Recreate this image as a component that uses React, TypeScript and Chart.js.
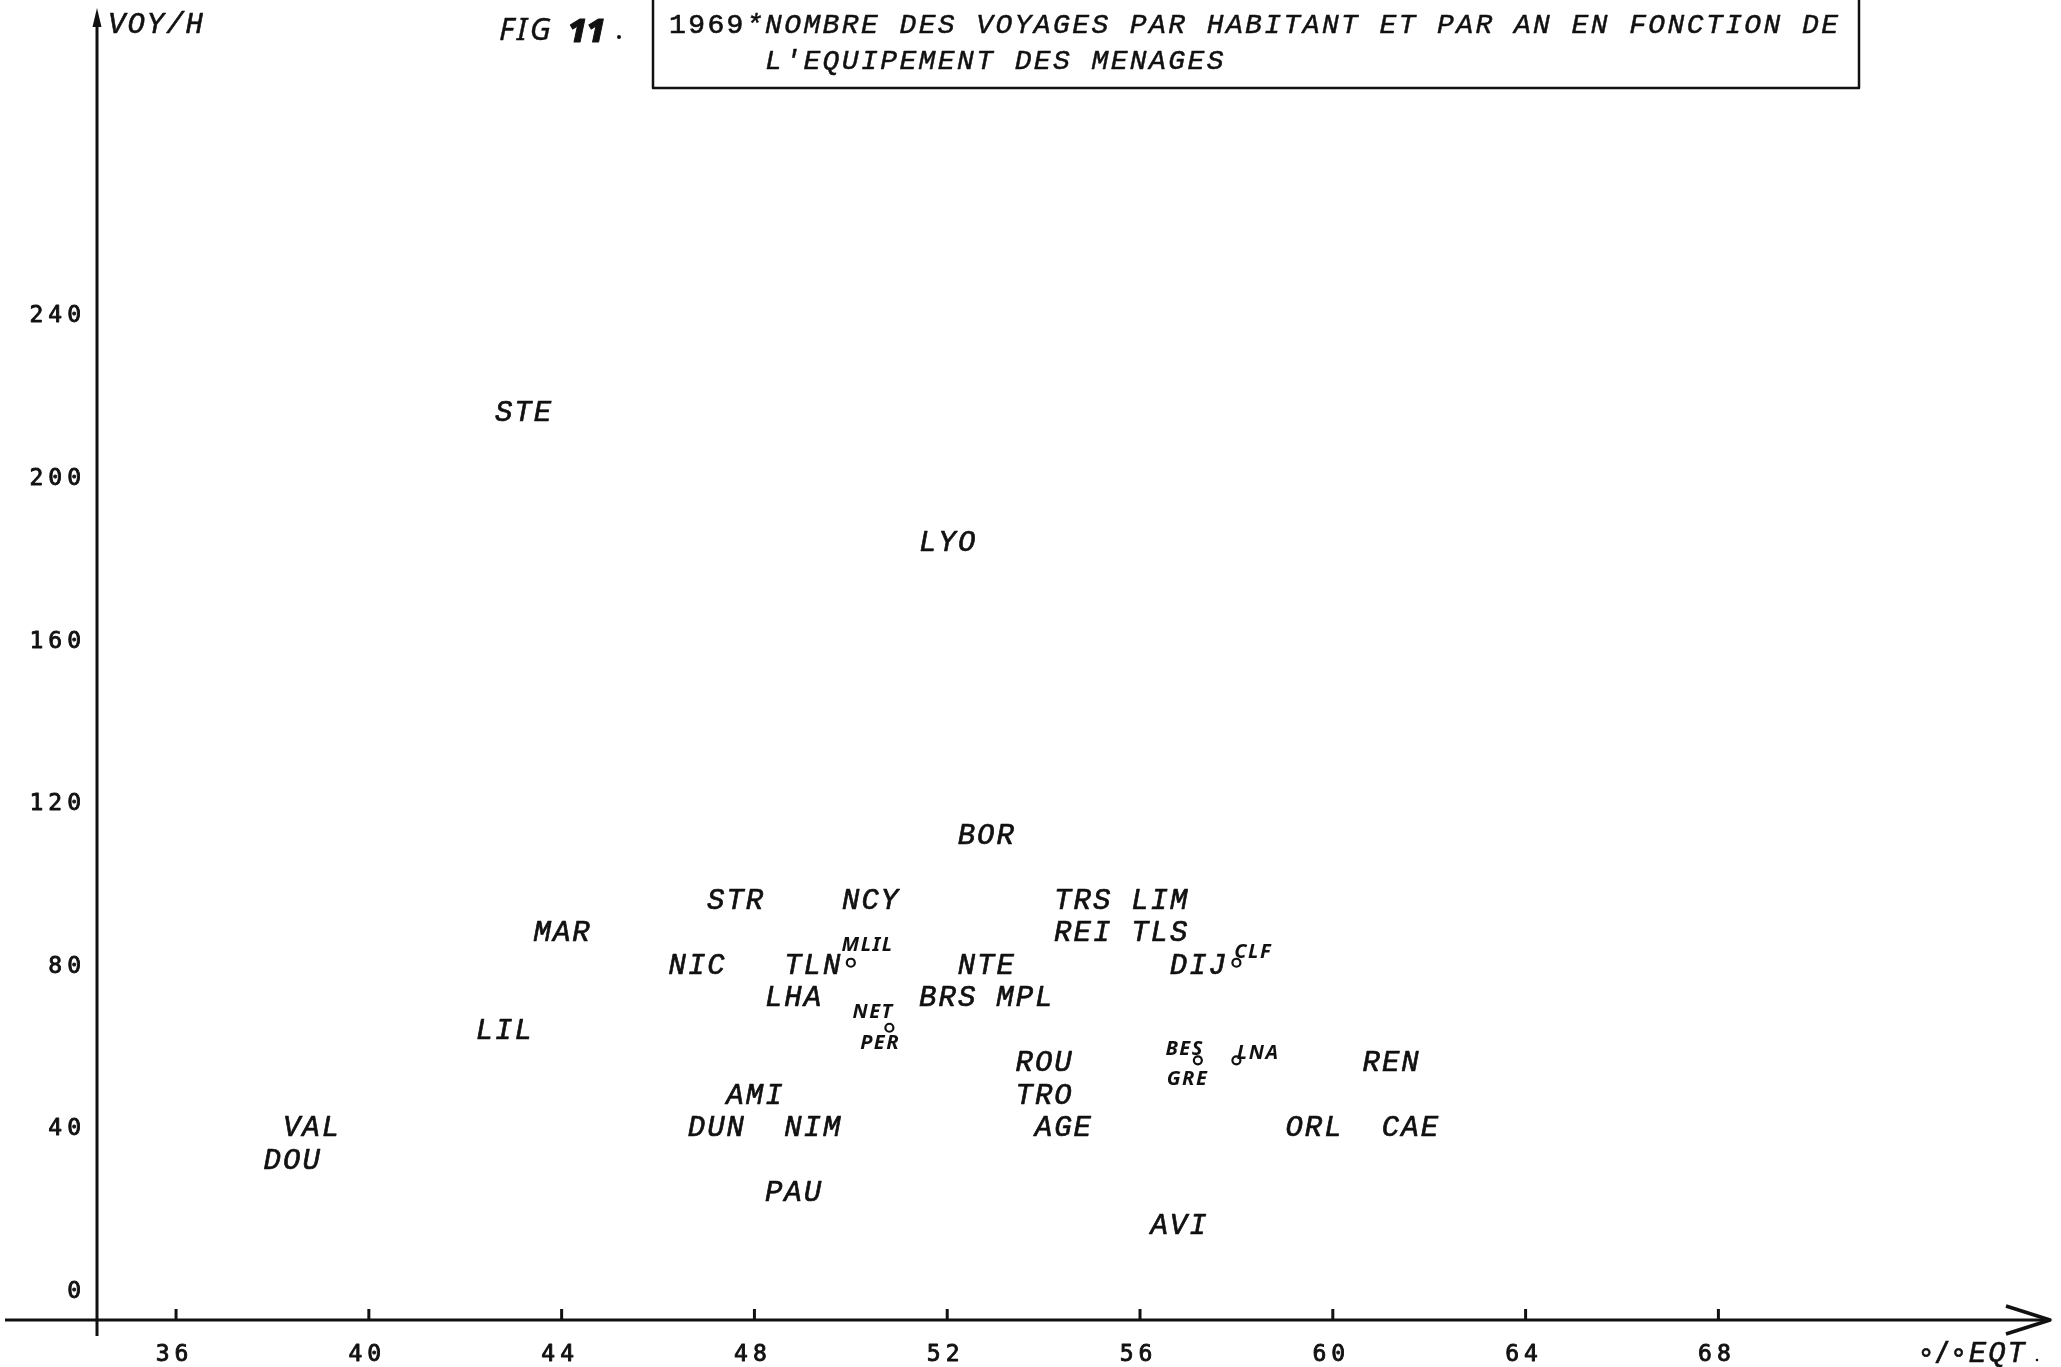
import React, { useEffect, useRef } from 'react';
import { Chart, registerables } from 'chart.js';

Chart.register(...registerables);

// ---------------- data ----------------
const X_TICKS = [36, 40, 44, 48, 52, 56, 60, 64, 68];
const Y_TICKS = [0, 40, 80, 120, 160, 200, 240];

const CITY_NAMES = ['STE', 'LYO', 'BOR', 'STR', 'NCY', 'TRS', 'LIM', 'MAR', 'REI', 'TLS', 'NIC', 'TLN', 'NTE', 'DIJ', 'LHA', 'BRS', 'MPL', 'LIL', 'ROU', 'REN', 'AMI', 'TRO', 'VAL', 'DUN', 'NIM', 'AGE', 'ORL', 'CAE', 'DOU', 'PAU', 'AVI'];
const CITY_EQT = [43.2, 52.0, 52.8, 47.6, 50.4, 54.8, 56.4, 44.0, 54.8, 56.4, 46.8, 49.2, 52.8, 57.2, 48.8, 52.0, 53.6, 42.8, 54.0, 61.2, 48.0, 54.0, 38.8, 47.2, 49.2, 54.4, 59.6, 61.6, 38.4, 48.8, 56.8];
const CITY_VOY = [216, 184, 112, 96, 96, 96, 96, 88, 88, 88, 80, 80, 80, 80, 72, 72, 72, 64, 56, 56, 48, 48, 40, 40, 40, 40, 40, 40, 32, 24, 16];

const MARKED_NAMES = [['MLIL'], ['CLF'], ['NET', 'PER'], ['BES', 'GRE'], ['LNA']];
const MARKED_EQT = [50.0, 58.0, 50.8, 57.2, 58.0];
const MARKED_VOY = [80, 80, 64, 56, 56];

const TITLE_YEAR = '1969';
const TITLE_LINE1 = '*NOMBRE DES VOYAGES PAR HABITANT ET PAR AN EN FONCTION DE';
const TITLE_LINE2 = "L'EQUIPEMENT DES MENAGES";
const Y_AXIS_TITLE = 'VOY/H';
const X_AXIS_UNIT = '∘/∘';
const X_AXIS_TITLE = 'EQT';
const FIG_TEXT = 'FIG';
const FIG_NUM = '11';

// ---------------- style ----------------
const W = 2061;
const H = 1367;
const INK = '#111';
const MONO = '"Liberation Mono", "DejaVu Sans Mono", monospace';
const GOTHIC = '"DejaVu Sans Mono", "Liberation Mono", monospace';
const HAND = '"Noto Sans", "DejaVu Sans", sans-serif';
const HAND_OFFSETS: Record<string, [number, number]> = {
  MLIL: [16, -19],
  CLF: [16, -12],
  NET: [-17, -17],
  PER: [-10, 14],
  BES: [-14, -12],
  GRE: [-11, 18],
  LNA: [21, -8],
};

function drawText(
  ctx: CanvasRenderingContext2D,
  text: string,
  x: number,
  y: number,
  font: string,
  spacing: number,
  align: 'left' | 'center' | 'right',
  stroke = 0
) {
  ctx.font = font;
  (ctx as any).letterSpacing = spacing + 'px';
  ctx.textAlign = 'left';
  ctx.textBaseline = 'alphabetic';
  const w = ctx.measureText(text).width - spacing;
  let lx = x;
  if (align === 'center') lx = x - w / 2;
  else if (align === 'right') lx = x - w;
  ctx.fillText(text, lx, y);
  if (stroke > 0) {
    ctx.lineWidth = stroke;
    ctx.strokeText(text, lx, y);
  }
  return w + spacing;
}

const paperPlugin = {
  id: 'paper',
  beforeDraw(chart: any) {
    const ctx = chart.ctx as CanvasRenderingContext2D;
    ctx.save();
    ctx.fillStyle = '#fff';
    ctx.fillRect(0, 0, chart.width, chart.height);
    ctx.restore();
  },
  afterDraw(chart: any) {
    const ctx = chart.ctx as CanvasRenderingContext2D;
    const area = chart.chartArea;
    const xs = chart.scales.x;
    const ys = chart.scales.y;
    const x0 = area.left;
    const yb = area.bottom;
    ctx.save();
    ctx.strokeStyle = INK;
    ctx.fillStyle = INK;
    ctx.lineCap = 'butt';
    ctx.lineJoin = 'round';

    // x axis line + arrow
    ctx.lineWidth = 3;
    ctx.beginPath();
    ctx.moveTo(5, yb);
    ctx.lineTo(area.right - 2, yb);
    ctx.stroke();
    ctx.lineWidth = 3.5;
    ctx.beginPath();
    ctx.moveTo(area.right - 44, yb - 14);
    ctx.lineTo(area.right, yb);
    ctx.lineTo(area.right - 44, yb + 14);
    ctx.stroke();

    // y axis line + arrow
    ctx.lineWidth = 3;
    ctx.beginPath();
    ctx.moveTo(x0, yb + 16);
    ctx.lineTo(x0, area.top + 10);
    ctx.stroke();
    ctx.beginPath();
    ctx.moveTo(x0, area.top - 2);
    ctx.lineTo(x0 - 4.5, area.top + 17);
    ctx.lineTo(x0 + 4.5, area.top + 17);
    ctx.closePath();
    ctx.fill();

    // x ticks + labels
    const xticks = (xs.ticks && xs.ticks.length ? xs.ticks.map((t: any) => t.value) : X_TICKS);
    xticks.forEach((v: number) => {
      const px = xs.getPixelForValue(v);
      ctx.lineWidth = 3;
      ctx.beginPath();
      ctx.moveTo(px, yb);
      ctx.lineTo(px, yb - 11);
      ctx.stroke();
      drawText(ctx, String(v), px - 4, 1352 + 8.5, `23px ${GOTHIC}`, 5, 'center', 0.9);
    });

    // y tick labels
    const yticks = (ys.ticks && ys.ticks.length ? ys.ticks.map((t: any) => t.value) : Y_TICKS);
    yticks.forEach((v: number) => {
      const py = ys.getPixelForValue(v);
      drawText(ctx, String(v), x0 - 16, py + 10, `23px ${GOTHIC}`, 5, 'right', 0.9);
    });

    // axis titles
    drawText(ctx, Y_AXIS_TITLE, 108, 23 + 10, `italic 29px ${MONO}`, 2, 'left', 0.6);
    const uw = drawText(ctx, X_AXIS_UNIT, 1918, 1352 + 8.5, `27px ${GOTHIC}`, 0, 'left', 0.6);
    drawText(ctx, X_AXIS_TITLE, 1918 + uw + 2, 1352 + 10, `italic 29px ${MONO}`, 2, 'left', 0.6);
    ctx.beginPath();
    ctx.arc(2037, 1360, 1.3, 0, Math.PI * 2);
    ctx.fill();

    // FIG 11.
    drawText(ctx, FIG_TEXT, 499, 40, `italic 31px ${HAND}`, 3, 'left', 0.4);
    drawText(ctx, FIG_NUM, 568, 42, `italic 900 32px ${HAND}`, 0, 'left', 1);
    ctx.beginPath();
    ctx.arc(619, 37, 2, 0, Math.PI * 2);
    ctx.fill();

    // title box
    ctx.lineWidth = 2.5;
    ctx.beginPath();
    ctx.moveTo(653, -2);
    ctx.lineTo(653, 88);
    ctx.lineTo(1859, 88);
    ctx.lineTo(1859, -2);
    ctx.stroke();
    const yw = drawText(ctx, TITLE_YEAR, 669, 23 + 10, `28px ${MONO}`, 2.4, 'left', 0.7);
    drawText(ctx, TITLE_LINE1, 669 + yw, 23 + 10, `italic 28px ${MONO}`, 2.4, 'left', 0.5);
    drawText(ctx, TITLE_LINE2, 669 + 5 * 19.2, 59 + 10, `italic 28px ${MONO}`, 2.4, 'left', 0.5);

    // typed city labels
    const meta0 = chart.getDatasetMeta(0);
    meta0.data.forEach((pt: any, i: number) => {
      drawText(ctx, CITY_NAMES[i], pt.x, pt.y + 11, `italic 29px ${MONO}`, 2, 'center', 0.7);
    });

    // handwritten labels around the small circles
    const meta1 = chart.getDatasetMeta(1);
    meta1.data.forEach((pt: any, i: number) => {
      MARKED_NAMES[i].forEach((name) => {
        const off = HAND_OFFSETS[name] || [12, -12];
        drawText(ctx, name, pt.x + off[0], pt.y + off[1] + 7, `italic bold 20px ${HAND}`, 1.5, 'center');
      });
    });
    ctx.restore();
  },
};

export default function App() {
  const ref = useRef<HTMLCanvasElement>(null);
  useEffect(() => {
    if (!ref.current) return;
    const chart = new Chart(ref.current, {
      type: 'scatter',
      data: {
        datasets: [
          {
            data: CITY_EQT.map((x, i) => ({ x, y: CITY_VOY[i] })),
            pointRadius: 0,
            pointHoverRadius: 0,
          },
          {
            data: MARKED_EQT.map((x, i) => ({ x, y: MARKED_VOY[i] })),
            pointRadius: 4,
            pointHoverRadius: 4,
            pointBorderWidth: 2.2,
            pointBorderColor: INK,
            pointBackgroundColor: 'rgba(0,0,0,0)',
          },
        ],
      },
      options: {
        responsive: false,
        animation: false,
        devicePixelRatio: 1,
        events: [],
        layout: { padding: { left: 97, right: 11, top: 10, bottom: 47 } },
        plugins: { legend: { display: false }, tooltip: { enabled: false } },
        scales: {
          x: {
            type: 'linear',
            display: false,
            min: 34.36,
            max: 74.88,
            afterBuildTicks: (s: any) => {
              s.ticks = X_TICKS.map((v) => ({ value: v }));
            },
          },
          y: {
            type: 'linear',
            display: false,
            min: -7.9,
            max: 314.4,
            afterBuildTicks: (s: any) => {
              s.ticks = Y_TICKS.map((v) => ({ value: v }));
            },
          },
        },
      } as any,
      plugins: [paperPlugin],
    });
    return () => chart.destroy();
  }, []);
  return (
    <div style={{ position: 'absolute', left: 0, top: 0, width: W, height: H, background: '#fff' }}>
      <canvas ref={ref} width={W} height={H} style={{ display: 'block', width: W, height: H }} />
    </div>
  );
}
